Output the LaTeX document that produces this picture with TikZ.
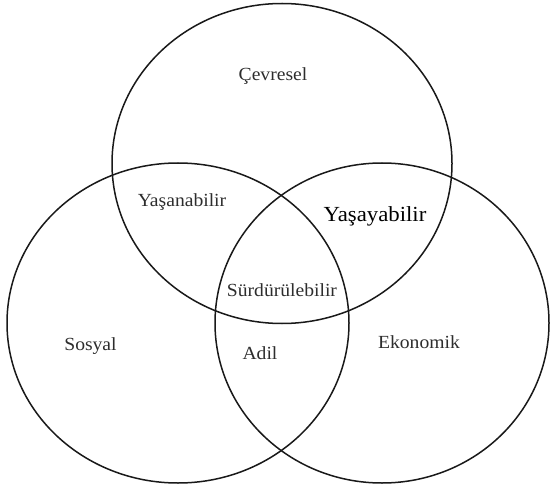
\documentclass[tikz,border=0pt]{standalone}
\usepackage{fontspec}
\setmainfont{Liberation Serif}
\usepackage{tikz}
\definecolor{vennline}{RGB}{25,25,25}
\definecolor{venntext}{RGB}{45,45,45}
\tikzset{
 vennset/.style={draw=vennline,line width=1.5pt},
 vennlabel/.style={text=venntext,inner sep=0pt,xscale=1.06,font=\fontsize{18.5}{21}\selectfont},
}
\begin{document}
\begin{tikzpicture}[x=1pt,y=-1pt,line cap=round,line join=round]
\useasboundingbox (0,0) rectangle (551,489);
% Trzy zbiory (lekko spłaszczone jak w oryginale).
\coordinate (cevre) at (282,163.5);
\coordinate (sosyal) at (178,323);
\coordinate (ekonomi) at (382,323);
\draw[vennset] (cevre) ellipse [x radius=170,y radius=160];
\draw[vennset] (sosyal) ellipse [x radius=171,y radius=160];
\draw[vennset] (ekonomi) ellipse [x radius=167,y radius=160];
% Etykiety obszarów.
\node[vennlabel] (cevLab) at (273,76) {Çevresel};
\node[vennlabel] (sosLab) at (90.5,346) {Sosyal};
\node[vennlabel] (ekoLab) at (419,342) {Ekonomik};
\node[vennlabel] (yasaLab) at (182,202) {Yaşanabilir};
\node[vennlabel,text=black,font=\fontsize{21.5}{24}\selectfont] (yasyLab) at (375,216) {Yaşayabilir};
\node[vennlabel] (adilLab) at (260,353) {Adil};
\node[vennlabel] (surdLab) at (282,290) {Sürdürülebilir};
\end{tikzpicture}
\end{document}
